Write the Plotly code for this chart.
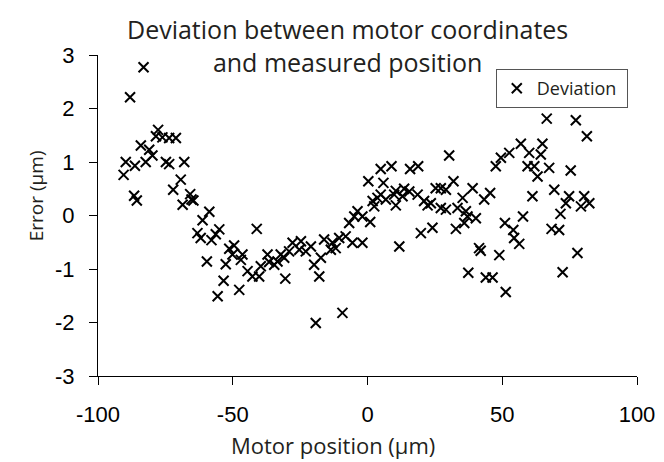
import plotly.graph_objects as go

# Motor position (um)
motor_x = [
    -90.5, -89.7, -88.1, -86.6, -86.3, -85.6, -84.1, -83.1, -82.3, -81.0,
    -79.8, -78.5, -77.7, -76.1, -74.8, -73.6, -73.6, -72.1, -71.1, -69.3,
    -68.6, -68.0, -65.8, -65.3, -64.6, -63.1, -61.9, -61.2, -59.6, -58.7,
    -57.9, -56.3, -55.6, -55.0, -53.4, -52.6, -51.3, -50.1, -49.5, -47.6,
    -47.0, -46.4, -44.5, -42.7, -41.1, -40.2, -39.6, -37.1, -36.5, -34.6,
    -33.4, -32.2, -30.9, -30.5, -29.1, -27.8, -25.3, -24.7, -22.9, -21.0,
    -19.8, -19.2, -17.9, -17.3, -16.1, -13.6, -13.0, -11.8, -10.5, -9.3,
    -8.1, -6.8, -5.6, -4.9, -3.7, -1.9, -1.9, 0.3, 1.0, 1.9,
    2.5, 3.7, 4.9, 4.9, 5.9, 6.8, 8.9, 9.9, 10.5, 10.5,
    11.8, 13.0, 13.6, 15.5, 15.8, 18.6, 18.8, 19.8, 21.0, 22.3,
    23.5, 24.1, 25.3, 27.2, 27.2, 29.1, 29.1, 30.3, 31.9, 32.8,
    33.4, 35.3, 35.9, 36.5, 37.1, 37.4, 39.0, 40.2, 41.4, 42.0,
    43.3, 43.9, 45.5, 46.4, 47.6, 48.9, 49.5, 51.0, 51.3, 52.6,
    54.1, 54.4, 56.3, 56.9, 57.7, 59.4, 60.0, 61.2, 61.9, 63.1,
    64.3, 64.9, 66.5, 67.4, 68.3, 69.3, 71.1, 71.6, 72.4, 73.6,
    74.8, 75.4, 77.3, 77.9, 79.2, 80.4, 81.4, 82.3,
]

# Error (um)
error_y = [
    0.76, 1.00, 2.21, 0.37, 0.93, 0.28, 1.31, 2.77, 1.00, 1.23,
    1.12, 1.48, 1.60, 1.46, 1.00, 0.96, 1.45, 0.48, 1.45, 0.67,
    0.20, 1.00, 0.40, 0.30, 0.28, -0.33, -0.42, -0.09, -0.86, 0.07,
    -0.46, -0.35, -1.51, -0.26, -1.22, -0.91, -0.62, -0.73, -0.56, -1.39,
    -0.83, -0.73, -1.04, -1.14, -0.25, -1.14, -0.95, -0.73, -0.87, -0.92,
    -0.86, -0.73, -0.79, -1.18, -0.67, -0.51, -0.64, -0.48, -0.67, -0.58,
    -0.92, -2.01, -1.14, -0.79, -0.45, -0.64, -0.51, -0.61, -0.42, -1.82,
    -0.39, -0.14, -0.51, -0.02, 0.08, -0.51, -0.02, 0.64, -0.12, 0.27,
    0.17, 0.33, 0.87, 0.39, 0.61, 0.30, 0.92, 0.39, 0.46, 0.19,
    -0.58, 0.36, 0.50, 0.45, 0.87, 0.39, 0.92, -0.33, 0.27, 0.19,
    0.23, -0.23, 0.51, 0.51, 0.14, 0.48, 0.11, 1.12, 0.64, -0.25,
    0.14, 0.33, -0.14, 0.08, -0.02, -1.07, 0.51, -0.05, -0.61, -0.66,
    0.30, -1.16, 0.42, -1.16, 0.92, -0.74, 1.08, -0.14, -1.43, 1.17,
    -0.27, -0.42, -0.53, 1.34, -0.02, 0.92, 1.17, 0.36, 0.92, 0.73,
    1.14, 1.34, 1.81, 0.89, -0.25, 0.48, -0.27, 0.03, -1.06, 0.23,
    0.36, 0.84, 1.78, -0.70, 0.17, 0.36, 1.48, 0.23,
]

x_ticks = [-100, -50, 0, 50, 100]
y_ticks = [-3, -2, -1, 0, 1, 2, 3]

TEXT = "#231f20"
SANS = "Open Sans, Noto Sans, sans-serif"
NUM = "Liberation Sans, Arial, sans-serif"

fig = go.Figure()
fig.add_trace(go.Scatter(
    x=motor_x, y=error_y, mode="markers", name="Deviation\u00a0",
    marker=dict(symbol="x-thin", size=10, color="black",
                line=dict(color="black", width=2)),
))

fig.update_layout(
    width=664, height=462,
    margin=dict(l=90, r=35, t=47, b=94),
    paper_bgcolor="white", plot_bgcolor="white",
    showlegend=True,
    legend=dict(x=0.738, y=0.956, xanchor="left", yanchor="top",
                bgcolor="white", bordercolor="#555", borderwidth=1,
                font=dict(family=SANS, size=18, color=TEXT),
                itemwidth=30),
    xaxis=dict(range=[-100, 100], tickvals=x_ticks, ticktext=[str(v) for v in x_ticks],
               showline=True, linecolor="black", linewidth=1,
               ticks="outside", ticklen=8, tickcolor="black",
               showgrid=False, zeroline=False,
               tickfont=dict(family=NUM, size=22, color="black"),
               ticklabelstandoff=11),
    yaxis=dict(range=[-3, 3], tickvals=y_ticks, ticktext=[str(v) for v in y_ticks],
               showline=True, linecolor="black", linewidth=1,
               ticks="outside", ticklen=8, tickcolor="black",
               showgrid=False, zeroline=False,
               tickfont=dict(family=NUM, size=22, color="black"),
               ticklabelstandoff=10),
    annotations=[
        dict(text="Deviation between motor coordinates<br>and measured position",
             xref="paper", yref="paper", x=0.462, y=1.14,
             xanchor="center", yanchor="top", showarrow=False,
             font=dict(family=SANS, size=25, color=TEXT)),
        dict(text="Motor position (\u00b5m)", xref="paper", yref="paper",
             x=0.436, y=-0.215, xanchor="center", yanchor="middle", showarrow=False,
             font=dict(family=SANS, size=22, color=TEXT)),
        dict(text="Error (\u00b5m)", xref="paper", yref="paper",
             x=-0.115, y=0.56, xanchor="center", yanchor="middle", showarrow=False,
             textangle=-90, font=dict(family=SANS, size=19, color=TEXT)),
    ],
)

fig.write_html("out.html")
